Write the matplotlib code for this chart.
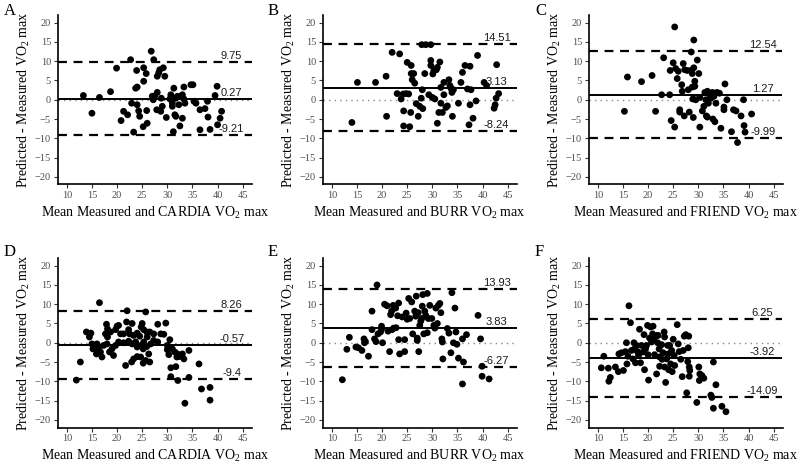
import matplotlib
matplotlib.use("Agg")
import matplotlib.pyplot as plt
import numpy as np

plt.rcParams['font.family'] = ['Liberation Serif', 'DejaVu Serif']
plt.rcParams['mathtext.fontset'] = 'custom'
plt.rcParams['mathtext.rm'] = 'Liberation Serif'
plt.rcParams['mathtext.it'] = 'Liberation Serif:italic'
plt.rcParams['mathtext.default'] = 'regular'

# ---------------- data ----------------
letters = ["A", "B", "C", "D", "E", "F"]
methods = ["CARDIA", "BURR", "FRIEND", "CARDIA", "BURR", "FRIEND"]

mean_bias = [0.27, 3.13, 1.27, -0.57, 3.83, -3.92]
upper_loa = [9.75, 14.51, 12.54, 8.26, 13.93, 6.25]
lower_loa = [-9.21, -8.24, -9.99, -9.4, -6.27, -14.09]
upper_lbl = ["9.75", "14.51", "12.54", "8.26", "13.93", "6.25"]
mean_lbl = ["0.27", "3.13", "1.27", "-0.57", "3.83", "-3.92"]
lower_lbl = ["-9.21", "-8.24", "-9.99", "-9.4", "-6.27", "-14.09"]

a_x = [13.3, 15.0, 16.5, 18.7, 19.9, 20.8, 21.3, 22.1, 22.7, 22.9, 23.3, 23.7, 24.0, 23.9, 24.0, 24.3,
       24.5, 25.2, 25.3, 25.3, 25.8, 25.9, 26.0, 26.8, 27.0, 27.2, 27.3, 27.5, 27.9, 28.0, 28.0, 28.3,
       28.5, 28.7, 28.8, 29.0, 29.2, 29.5, 29.8, 30.5, 30.7, 31.0, 31.0, 31.2, 31.3, 31.5, 31.7, 31.7,
       32.0, 32.3, 32.5, 32.7, 33.0, 33.0, 33.3, 33.3, 33.5, 34.7, 35.1, 35.3, 35.7, 36.5, 36.5, 37.5,
       38.0, 38.1, 38.5, 39.5, 39.9, 40.0, 40.5, 40.8]
a_y = [1.1, -3.5, 0.6, 2.1, 8.2, -5.4, -3.0, -3.9, 10.4, -0.9, -8.4, 3.0, 3.3, 7.6, -1.3, -2.9,
       -4.3, -7.0, 8.3, 4.8, 6.8, -2.8, -6.1, 12.6, 0.9, 0.0, 10.4, 1.0, -2.6, 1.9, 6.1, 7.0,
       7.8, -3.0, 0.4, -1.7, 8.3, 6.1, -4.6, 0.2, 1.3, -0.9, -1.7, -8.3, 3.0, -3.9, -4.3, 0.4,
       0.9, -1.3, -6.8, 0.9, 1.3, -4.8, 3.3, 0.2, -0.9, 3.9, 3.9, -0.4, -0.9, -2.6, -7.8, -2.3,
       -0.4, -4.5, -7.7, 1.1, 3.5, -6.5, -4.8, -3.0]

b_x = [14.0, 15.1, 18.7, 20.8, 20.9, 22.0, 23.0, 23.5, 23.8, 24.2, 24.3, 24.3, 24.8, 25.0, 25.3, 25.5,
       25.7, 25.8, 25.8, 26.0, 26.3, 26.5, 26.8, 27.2, 27.5, 27.8, 27.9, 28.0, 28.1, 28.5, 28.7, 29.3,
       29.7, 29.7, 29.7, 30.0, 30.1, 30.3, 30.5, 30.8, 31.0, 31.0, 31.3, 31.5, 31.7, 31.7, 32.0, 32.3,
       32.3, 32.7, 33.0, 33.3, 33.5, 33.7, 33.9, 34.0, 34.2, 35.2, 35.7, 36.0, 36.5, 37.0, 37.3, 37.5,
       37.5, 37.7, 38.1, 38.7, 39.0, 40.3, 40.8, 42.3, 42.5, 42.7, 42.8, 43.2]
b_y = [-5.9, 4.5, 4.5, 6.1, -4.3, 12.3, 1.6, 11.9, 0.2, 1.5, -2.9, -6.8, 1.6, 9.7, 1.5, -7.0,
       -3.3, 8.9, 6.8, 5.2, 6.8, 4.3, -1.0, -4.3, -1.7, 0.4, 14.3, 2.6, -2.3, 6.8, 14.3, 1.3,
       14.3, 10.2, 8.9, 0.6, 6.7, 7.6, 0.2, 7.8, 8.4, -6.1, -3.3, 9.8, 3.2, -0.9, -3.3, 1.3,
       4.5, -2.0, -1.6, 5.2, 3.7, 3.0, 1.9, -4.3, 2.6, -0.9, 4.5, 7.1, 8.9, 2.8, -6.5, -1.3,
       8.7, 2.6, -4.8, -0.3, 11.5, 4.5, 3.7, -2.2, -1.3, 0.4, 9.1, 1.6]

c_x = [15.3, 15.9, 18.7, 20.8, 21.5, 22.7, 23.1, 24.3, 24.4, 24.6, 25.0, 25.3, 25.5, 25.3, 25.8, 26.0,
       26.3, 26.3, 26.7, 26.8, 27.0, 27.2, 27.3, 27.8, 28.0, 28.2, 28.5, 28.6, 28.8, 28.8, 28.9, 29.0,
       29.1, 29.1, 29.3, 29.3, 29.5, 29.8, 30.1, 30.3, 30.3, 30.8, 31.1, 31.3, 31.5, 31.6, 31.8, 31.8,
       32.0, 32.3, 32.5, 32.8, 32.9, 33.1, 33.3, 33.5, 33.7, 34.2, 34.5, 35.1, 35.1, 35.3, 35.7, 36.6,
       37.0, 37.5, 37.8, 38.5, 39.0, 39.1, 39.3, 40.6]
c_y = [-3.0, 5.9, 4.7, 6.3, -3.0, 1.3, 10.9, 1.3, 7.6, -5.4, 9.6, 18.9, 8.1, -7.1, 5.5, 7.4,
       -2.6, -3.2, 3.9, 2.2, 9.4, -4.2, 7.8, 7.6, 2.6, -3.2, 7.6, 12.4, 6.8, 3.3, 0.2, -4.6,
       15.5, 8.3, 4.8, 3.5, 0.0, 10.3, 6.8, 0.6, -7.1, -2.9, -1.7, 1.9, 0.0, -4.2, -4.5, 2.2,
       -0.9, 1.3, 0.4, 1.9, -5.0, 0.9, -5.7, -0.9, 1.9, 1.7, -7.4, -1.9, -2.6, 4.1, 0.0, -8.3,
       -2.6, -2.9, -11.1, -4.2, 0.0, -6.7, -8.4, -3.7]

d_x = [16.5, 12.7, 11.9, 22.0, 25.7, 13.9, 14.8, 14.5, 17.9, 18.1, 18.7, 17.7, 18.1, 20.0, 20.3, 19.7,
       20.7, 21.9, 22.3, 21.3, 23.0, 22.5, 23.3, 25.0, 24.8, 25.3, 25.9, 26.5, 24.0, 24.5, 26.0, 28.1,
       29.7, 27.3, 28.7, 29.3, 15.0, 15.5, 15.2, 16.0, 16.3, 16.7, 17.0, 15.9, 17.3, 18.0, 18.5, 19.0,
       19.7, 19.3, 20.3, 21.3, 22.3, 23.0, 23.7, 24.0, 24.7, 25.3, 25.9, 26.7, 27.3, 28.1, 26.3, 25.2,
       21.7, 22.9, 23.3, 24.7, 25.7, 25.2, 26.5, 24.0, 30.0, 30.5, 30.0, 30.3, 31.0, 31.5, 32.0, 32.3,
       33.0, 31.9, 33.3, 34.3, 30.7, 31.7, 30.7, 32.1, 34.3, 36.3, 36.8, 38.5, 38.5, 33.5]
d_y = [10.4, -5.0, -9.7, 8.3, 8.0, 2.8, 2.5, 1.5, 4.8, 3.6, 2.8, 2.3, 1.5, 4.3, 4.5, 3.4,
       2.3, 5.4, 3.4, 2.3, 5.0, 2.3, 1.9, 5.0, 4.1, 3.4, 2.8, 2.8, 2.5, 1.7, 1.5, 4.8,
       5.1, 2.3, 2.3, 2.2, -0.3, -1.1, -1.6, -0.3, -1.6, -2.4, -3.7, -2.9, -0.7, -0.3, -2.4, -1.6,
       -0.7, -3.3, 0.2, 0.0, 0.4, -0.3, 0.2, -1.1, -0.7, 0.2, -1.0, -0.3, 0.6, 0.2, -2.9, -1.6,
       -5.9, -5.0, -4.2, -3.7, -4.6, -5.3, -5.0, -3.6, -0.7, 0.8, -1.8, -3.1, -1.6, -2.4, -2.9, -3.6,
       -2.9, -3.7, -4.2, -2.0, -6.5, -6.2, -8.8, -9.8, -9.0, -5.5, -12.0, -11.6, -14.9, -15.7]

e_x = [12.1, 13.0, 13.5, 14.8, 15.3, 16.0, 16.4, 16.5, 16.7, 17.3, 18.0, 18.0, 18.5, 18.8, 19.0, 19.2,
       19.7, 19.9, 19.9, 20.1, 20.5, 21.0, 21.2, 21.5, 21.7, 21.9, 22.0, 22.2, 22.3, 22.7, 22.8, 23.1,
       23.3, 23.3, 23.5, 24.0, 24.5, 24.5, 24.8, 25.0, 25.3, 25.5, 25.9, 26.1, 26.5, 26.7, 26.8, 27.0,
       27.0, 27.2, 27.3, 27.5, 27.7, 27.9, 28.0, 28.1, 28.3, 28.5, 28.7, 29.0, 29.0, 29.2, 29.5, 29.9,
       30.3, 30.5, 30.7, 31.0, 31.2, 31.5, 31.7, 31.9, 32.0, 32.1, 33.0, 33.3, 33.7, 33.9, 34.2, 34.5,
       34.7, 34.9, 35.2, 36.0, 36.2, 36.0, 36.8, 39.1, 39.6, 39.9, 39.9, 41.3]
e_y = [-9.6, -1.7, 1.4, -1.1, -1.3, -2.0, 1.0, 0.0, 0.3, -3.5, 8.2, 3.4, 1.0, 0.3, 15.0, 2.3,
       2.8, 4.3, 3.5, 0.0, 10.0, 9.6, 3.0, -2.3, 7.3, 8.2, 3.4, 9.7, 3.8, 9.0, 3.9, 7.0,
       10.3, 0.8, -2.9, 6.7, 0.8, -2.3, 7.7, 6.1, 11.5, 6.3, 10.6, 2.3, 8.2, 6.9, 12.1, 1.2,
       0.6, 7.8, -2.3, 4.5, 5.6, 6.3, 9.5, 12.5, 2.3, 8.2, 7.1, 12.8, 2.6, 6.3, 9.7, 6.3,
       4.5, 3.8, 9.0, 5.0, 9.7, 10.2, 7.8, 1.0, 0.2, -4.2, 3.7, 2.5, -2.6, 13.0, 0.0, 9.0,
       2.8, -0.4, -4.0, 1.0, -5.0, -10.7, 2.1, 7.1, 1.0, -6.1, -8.7, -9.4]

f_x = [10.7, 11.2, 12.1, 12.2, 12.5, 13.5, 14.1, 14.2, 14.7, 15.1, 15.5, 15.7, 15.8, 16.0, 16.2, 16.5,
       16.7, 17.0, 17.2, 17.3, 17.5, 17.7, 17.9, 18.1, 18.3, 18.5, 18.7, 19.0, 19.2, 19.3, 19.5, 19.7,
       19.9, 20.0, 20.1, 20.3, 20.5, 20.7, 20.9, 21.0, 21.2, 21.3, 21.7, 21.7, 21.9, 22.0, 22.2, 22.3,
       22.3, 22.7, 22.8, 23.0, 23.2, 23.3, 23.3, 23.5, 23.7, 23.9, 24.0, 24.1, 24.3, 24.5, 24.7, 24.8,
       25.0, 25.2, 25.3, 25.8, 26.0, 26.2, 26.5, 26.8, 27.0, 27.2, 27.5, 27.7, 27.9, 28.0, 28.1, 28.2,
       28.2, 28.3, 29.7, 30.1, 30.2, 30.3, 30.7, 31.1, 32.5, 32.7, 33.0, 33.0, 33.5, 34.7, 35.5]
f_y = [-6.5, -3.5, -6.6, -10.0, -9.0, -6.3, -7.5, -2.9, -2.6, -7.2, -2.3, 0.0, -5.5, -3.5, 9.6, 5.2,
       -2.0, -4.2, 0.0, -1.6, -5.2, -0.7, -2.3, -3.3, 3.5, -5.2, -0.7, -2.4, 2.1, -7.0, -1.6, -0.7,
       4.5, -3.1, -9.7, 1.2, 4.1, 0.2, 2.3, 4.3, 1.0, -3.1, 1.9, -8.1, 0.0, 1.9, -1.6, -3.7,
       -6.1, -0.5, -4.3, -2.6, 2.8, 1.5, -6.3, -10.3, -4.2, -0.7, -2.9, -7.0, -0.7, -5.5, -2.0, -7.5,
       0.9, -3.3, -5.9, 4.7, -0.3, -2.3, -4.3, -8.8, -2.0, 1.7, 2.1, -13.0, -4.9, -1.3, 1.7, -8.7,
       -6.3, -7.2, -15.5, -6.3, -9.8, -8.1, -8.5, -9.2, -13.6, -14.2, -5.0, -17.0, -10.9, -16.5, -17.9]

xs = [a_x, b_x, c_x, d_x, e_x, f_x]
ys = [a_y, b_y, c_y, d_y, e_y, f_y]

x_ticks = [10, 15, 20, 25, 30, 35, 40, 45]
y_ticks = [-20, -15, -10, -5, 0, 5, 10, 15, 20]

# ---------------- figure ----------------
W, H = 800, 465
fig = plt.figure(figsize=(8, 4.65), dpi=100)

lefts = [58, 323, 589]
tops = [15, 258]
aw, ah = 193.5, 169.5
letter_pos = [(4, 3), (268, 3), (535, 3), (4, 244), (268, 244), (535, 244)]

for i in range(6):
    r, c = divmod(i, 3)
    l = lefts[c]
    t = tops[r]
    ax = fig.add_axes([l / W, 1 - (t + ah) / H, aw / W, ah / H])
    ax.set_xlim(8.25, 46.75)
    ax.set_ylim(-22, 22)
    for s in ['top', 'right']:
        ax.spines[s].set_visible(False)
    for s in ['left', 'bottom']:
        ax.spines[s].set_linewidth(1.2)
        ax.spines[s].set_color('black')
    ax.set_xticks(x_ticks)
    ax.set_yticks(y_ticks)
    ax.tick_params(axis='both', direction='out', length=3, width=0.8, color='#333333',
                   labelsize=7.5, labelcolor='#4d4d4d', pad=2)

    ax.axhline(0, color='#888888', lw=1.0, ls=(0, (1, 3)), zorder=1)
    ax.axhline(mean_bias[i], color='black', lw=1.4, zorder=2)
    ax.axhline(upper_loa[i], color='black', lw=1.6, ls=(0, (4, 3)), zorder=2)
    ax.axhline(lower_loa[i], color='black', lw=1.6, ls=(0, (4, 3)), zorder=2)

    ax.scatter(xs[i], ys[i], s=24, color='black', edgecolors='none', zorder=3)

    for val, lbl in zip([upper_loa[i], mean_bias[i], lower_loa[i]],
                        [upper_lbl[i], mean_lbl[i], lower_lbl[i]]):
        ax.text(42.8, val + 0.3, lbl, ha='center', va='bottom', fontsize=8,
                family=['Liberation Sans', 'DejaVu Sans'], color='#1a1a1a', zorder=4)

    ax.set_xlabel('Mean Measured and %s VO$_2$ max' % methods[i], fontsize=10, labelpad=3)
    ax.set_ylabel('Predicted - Measured VO$_2$ max', fontsize=10, labelpad=2)

    lx, ly = letter_pos[i]
    fig.text(lx / W, 1 - ly / H, letters[i], fontsize=12, ha='left', va='top')

fig.savefig('out.png', dpi=100)
